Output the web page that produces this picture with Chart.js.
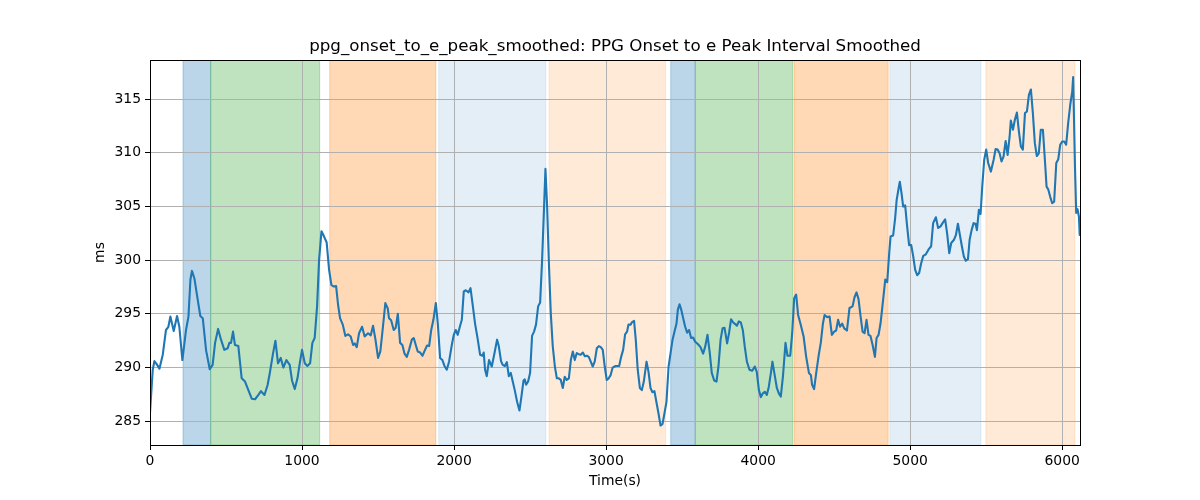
<!DOCTYPE html>
<html>
<head>
<meta charset="utf-8">
<script src="https://cdn.jsdelivr.net/npm/chart.js@4/dist/chart.umd.min.js"></script>
<style>
  body { margin: 0; background: #fff; }
  #chart { display: block; }
</style>
</head>
<body>
<canvas id="chart" width="1200" height="500"></canvas>
<script>
// time (s) and smoothed interval (ms)
var times = [
  0, 18, 29, 45, 62, 84, 105, 121, 134, 156, 178, 193, 213, 237, 253, 266, 276, 292, 314, 331,
  347, 369, 393, 412, 428, 448, 467, 489, 511, 522, 533, 546, 559, 581, 603, 625, 647, 669, 691, 713,
  730, 753, 774, 788, 809, 825, 842, 860, 877, 897, 919, 934, 952, 970, 985, 1000, 1018, 1035, 1053, 1068,
  1083, 1099, 1112, 1128, 1145, 1162, 1178, 1193, 1209, 1224, 1237, 1250, 1268, 1285, 1303, 1320, 1336, 1347, 1360, 1375,
  1395, 1412, 1434, 1452, 1467, 1483, 1500, 1515, 1530, 1548, 1564, 1572, 1586, 1603, 1616, 1630, 1645, 1660, 1674, 1689,
  1704, 1722, 1735, 1748, 1761, 1777, 1792, 1809, 1822, 1836, 1849, 1864, 1880, 1893, 1908, 1923, 1937, 1952, 1967, 1985,
  1998, 2011, 2024, 2038, 2051, 2064, 2077, 2095, 2108, 2121, 2138, 2156, 2171, 2187, 2195, 2204, 2215, 2230, 2248, 2266,
  2283, 2294, 2309, 2320, 2334, 2347, 2360, 2373, 2386, 2399, 2415, 2430, 2443, 2457, 2465, 2474, 2487, 2500, 2513, 2526,
  2539, 2553, 2566, 2579, 2592, 2601, 2612, 2623, 2636, 2649, 2663, 2676, 2689, 2702, 2715, 2728, 2741, 2755, 2768, 2781,
  2794, 2807, 2820, 2833, 2847, 2860, 2873, 2886, 2899, 2912, 2925, 2939, 2952, 2965, 2978, 2991, 3004, 3017, 3030, 3043,
  3062, 3086, 3099, 3112, 3125, 3138, 3147, 3161, 3169, 3184, 3195, 3208, 3222, 3235, 3248, 3266, 3279, 3292, 3305, 3318,
  3332, 3345, 3358, 3371, 3384, 3397, 3411, 3424, 3437, 3450, 3463, 3472, 3483, 3494, 3507, 3520, 3533, 3546, 3559, 3572,
  3586, 3603, 3621, 3638, 3651, 3667, 3682, 3695, 3711, 3726, 3739, 3753, 3766, 3779, 3796, 3809, 3822, 3836, 3849, 3860,
  3873, 3886, 3899, 3912, 3926, 3943, 3961, 3978, 3991, 4005, 4018, 4031, 4044, 4057, 4070, 4084, 4094, 4110, 4123, 4136,
  4149, 4163, 4180, 4193, 4211, 4224, 4237, 4250, 4263, 4281, 4299, 4316, 4334, 4347, 4355, 4368, 4382, 4399, 4412, 4426,
  4437, 4452, 4470, 4485, 4500, 4513, 4526, 4539, 4553, 4566, 4584, 4601, 4621, 4634, 4647, 4660, 4674, 4687, 4700, 4713,
  4726, 4739, 4753, 4768, 4779, 4792, 4805, 4822, 4836, 4849, 4862, 4871, 4888, 4901, 4911, 4924, 4932, 4943, 4954, 4967,
  4980, 4993, 5007, 5020, 5033, 5046, 5059, 5072, 5086, 5103, 5121, 5138, 5151, 5169, 5184, 5200, 5213, 5230, 5243, 5257,
  5270, 5288, 5301, 5314, 5327, 5340, 5353, 5366, 5380, 5391, 5404, 5417, 5430, 5439, 5452, 5463, 5474, 5487, 5500, 5513,
  5531, 5549, 5562, 5575, 5588, 5601, 5614, 5628, 5641, 5654, 5662, 5676, 5689, 5702, 5715, 5728, 5741, 5755, 5768, 5781,
  5794, 5807, 5820, 5833, 5846, 5859, 5873, 5886, 5897, 5908, 5921, 5934, 5947, 5961, 5974, 5987, 6000, 6013, 6026, 6039,
  6053, 6066, 6072, 6084, 6092, 6101, 6110, 6115
];
var intervals = [
  285.8, 289.8, 290.6, 290.3, 289.9, 291.2, 293.5, 293.8, 294.75, 293.4, 294.8, 293.8, 290.7, 293.5, 294.75, 298.2, 299.0, 298.3, 296.3, 294.8,
  294.6, 291.6, 289.85, 290.25, 292.3, 293.6, 292.6, 291.65, 291.8, 292.3, 292.3, 293.35, 292.1, 292.0, 289.0, 288.7, 287.9, 287.1, 287.05, 287.45,
  287.8, 287.45, 288.4, 289.5, 291.3, 292.5, 290.4, 290.9, 290.0, 290.7, 290.25, 288.8, 288.0, 289.0, 290.4, 291.65, 290.4, 290.15, 290.4, 292.3,
  292.75, 295.7, 300.0, 302.7, 302.2, 301.65, 299.1, 297.7, 297.55, 297.6, 295.85, 294.6, 294.0, 292.95, 293.1, 292.9, 292.1, 292.25, 291.9, 293.2,
  293.8, 292.9, 293.2, 293.0, 293.9, 292.6, 290.9, 291.5, 293.5, 296.0, 295.5, 294.6, 294.4, 293.5, 293.7, 295.0, 292.3, 292.1, 291.3, 291.0,
  291.65, 292.6, 292.75, 292.1, 291.5, 291.4, 291.1, 291.65, 292.05, 292.0, 293.45, 294.45, 296.0, 294.1, 290.9, 290.7, 290.15, 289.8, 290.55, 292.1,
  293.05, 293.5, 293.05, 293.8, 294.45, 297.1, 297.2, 297.0, 297.4, 296.0, 294.1, 292.6, 291.2, 291.1, 291.4, 289.8, 289.2, 290.7, 290.1, 291.35,
  292.6, 292.0, 290.6, 290.25, 290.15, 290.5, 289.2, 289.5, 288.7, 287.9, 286.8, 286.0, 287.3, 288.8, 288.9, 288.4, 288.7, 289.5, 292.95, 293.35,
  294.0, 295.7, 296.05, 300.0, 305.0, 308.5, 305.0, 300.0, 295.1, 292.0, 290.1, 289.0, 289.0, 288.85, 288.1, 289.15, 288.85, 289.0, 290.7, 291.5,
  290.7, 291.35, 291.25, 291.2, 291.4, 291.05, 291.1, 291.0, 290.55, 290.1, 290.55, 291.8, 292.0, 291.9, 291.65, 290.1, 288.85, 289.0, 289.3, 290.0,
  290.15, 290.15, 291.0, 291.65, 293.1, 293.35, 294.0, 294.0, 294.2, 294.35, 292.6, 289.8, 288.1, 287.9, 288.7, 290.55, 289.6, 288.1, 287.7, 287.8,
  286.7, 285.7, 284.6, 284.75, 285.75, 286.8, 290.1, 291.35, 292.6, 293.35, 294.1, 295.4, 295.9, 295.4, 294.6, 293.8, 293.25, 293.5, 292.75, 292.8,
  292.4, 292.2, 291.9, 291.3, 291.9, 293.05, 291.35, 289.5, 288.8, 288.7, 290.1, 292.6, 293.65, 293.7, 292.25, 293.25, 294.5, 294.2, 294.05, 293.9,
  294.3, 294.2, 293.5, 291.95, 290.55, 289.8, 289.7, 290.1, 289.6, 287.9, 287.25, 287.6, 287.75, 287.45, 288.2, 289.5, 290.55, 289.2, 288.1, 287.6,
  287.3, 289.15, 292.3, 291.1, 291.1, 293.2, 296.45, 296.8, 294.9, 293.95, 292.9, 291.0, 289.5, 289.3, 288.4, 288.0, 289.5, 291.2, 292.3, 294.1,
  294.9, 294.7, 294.75, 293.05, 293.35, 293.45, 294.45, 293.8, 294.1, 293.65, 293.45, 295.55, 295.7, 296.55, 297.0, 296.4, 294.75, 293.35, 293.2, 294.45,
  293.05, 292.95, 292.1, 291.0, 292.75, 293.05, 294.1, 296.3, 298.2, 297.95, 300.65, 302.2, 302.3, 303.9, 305.6, 306.7, 307.3, 306.25, 305.0, 305.1,
  303.15, 301.4, 301.4, 300.35, 299.1, 298.6, 298.8, 299.7, 300.4, 300.55, 301.0, 301.3, 303.45, 304.0, 303.0, 303.15, 303.45, 303.8, 302.5, 300.65,
  301.6, 301.9, 302.35, 303.4, 302.35, 301.3, 300.35, 299.95, 300.1, 301.9, 302.8, 303.45, 303.4, 302.8, 304.7, 304.3, 306.85, 309.35, 310.3, 309.05,
  308.25, 309.35, 310.35, 310.3, 309.95, 309.2, 309.65, 311.1, 309.8, 311.5, 313.0, 312.15, 313.1, 313.75, 312.0, 310.6, 310.3, 313.7, 313.85, 315.4,
  315.9, 313.7, 310.9, 309.7, 309.95, 312.15, 312.15, 309.35, 306.85, 306.6, 305.9, 305.3, 305.45, 309.05, 309.4, 310.75, 311.05, 311.05, 310.75, 312.75,
  314.5, 315.7, 317.05, 308.7, 304.4, 304.75, 304.05, 302.35
];

// shaded phases
var spanStart = [217, 399, 1182, 1899, 2625, 3425, 3586, 4237, 4866, 5498];
var spanEnd = [399, 1116, 1880, 2603, 3391, 3586, 4228, 4855, 5465, 6084];
var spanColor = [
  "rgba(31, 119, 180, 0.3)", "rgba(44, 160, 44, 0.3)", "rgba(255, 127, 14, 0.3)",
  "rgba(31, 119, 180, 0.12)", "rgba(255, 127, 14, 0.16)",
  "rgba(31, 119, 180, 0.3)", "rgba(44, 160, 44, 0.3)", "rgba(255, 127, 14, 0.3)",
  "rgba(31, 119, 180, 0.12)", "rgba(255, 127, 14, 0.16)"
];

var xTicks = [0, 1000, 2000, 3000, 4000, 5000, 6000];
var yTicks = [285, 290, 295, 300, 305, 310, 315];

var font_family = "'DejaVu Sans', sans-serif";

var spans_plugin = {
  id: 'spans',
  beforeDraw: function(chart) {
    var ctx = chart.ctx;
    var area = chart.chartArea;
    var xs = chart.scales.x;
    ctx.save();
    ctx.beginPath();
    ctx.rect(area.left, area.top, area.right - area.left, area.bottom - area.top);
    ctx.clip();
    for (var i = 0; i < spanStart.length; i++) {
      var x1 = xs.getPixelForValue(spanStart[i]);
      var x2 = xs.getPixelForValue(spanEnd[i]);
      ctx.fillStyle = spanColor[i];
      ctx.strokeStyle = spanColor[i];
      ctx.lineWidth = 1;
      ctx.fillRect(x1, area.top, x2 - x1, area.bottom - area.top);
      ctx.strokeRect(x1, area.top, x2 - x1, area.bottom - area.top);
    }
    ctx.restore();
  }
};

var frame_plugin = {
  id: 'frame',
  afterDatasetsDraw: function(chart) {
    var ctx = chart.ctx;
    var a = chart.chartArea;
    ctx.save();
    ctx.strokeStyle = "#000";
    ctx.lineWidth = 1;
    ctx.strokeRect(Math.round(a.left) + 0.5, Math.round(a.top) + 0.5,
      Math.round(a.right - a.left), Math.round(a.bottom - a.top));
    ctx.restore();
  }
};

var points = times.map(function(t, i) { return {x: t, y: intervals[i]}; });

var ctx = document.getElementById('chart').getContext('2d');
window.myChart = new Chart(ctx, {
  type: 'scatter',
  data: {
    datasets: [{
      label: 'ppg_onset_to_e_peak_smoothed',
      data: points,
      borderColor: "#1f77b4",
      backgroundColor: "rgba(0,0,0,0)",
      borderWidth: 2.1,
      borderJoinStyle: 'round',
      borderCapStyle: 'round',
      pointRadius: 0,
      showLine: true,
      tension: 0
    }]
  },
  options: {
    responsive: false,
    animation: false,
    devicePixelRatio: 1,
    layout: {
      padding: {left: 92, right: 120, top: 0, bottom: 0}
    },
    scales: {
      x: {
        type: 'linear',
        min: 0,
        max: 6117,
        afterFit: function(scale) { scale.height = 55; },
        afterBuildTicks: function(scale) {
          scale.ticks = xTicks.map(function(v) { return {value: v}; });
        },
        grid: {
          color: "#b0b0b0",
          lineWidth: 1,
          tickColor: "#000",
          tickLength: 5,
          tickWidth: 1
        },
        border: { display: false },
        ticks: {
          color: "#000",
          padding: 3,
          maxRotation: 0,
          font: { family: font_family, size: 13.9 },
          callback: function(value) { return value; }
        },
        title: {
          display: true,
          text: 'Time(s)',
          color: "#000",
          padding: {top: 0, bottom: 10},
          font: { family: font_family, size: 13.9 }
        }
      },
      y: {
        min: 282.79,
        max: 318.64,
        afterFit: function(scale) { scale.width = 58; },
        afterBuildTicks: function(scale) {
          scale.ticks = yTicks.map(function(v) { return {value: v}; });
        },
        grid: {
          color: "#b0b0b0",
          lineWidth: 1,
          tickColor: "#000",
          tickLength: 5,
          tickWidth: 1
        },
        border: { display: false },
        ticks: {
          color: "#000",
          padding: 4,
          font: { family: font_family, size: 13.9 },
          callback: function(value) { return value; }
        },
        title: {
          display: true,
          text: 'ms',
          color: "#000",
          padding: {top: 0, bottom: 0},
          font: { family: font_family, size: 13.9 }
        }
      }
    },
    plugins: {
      legend: { display: false },
      tooltip: { enabled: false },
      title: {
        display: true,
        fullSize: false,
        text: 'ppg_onset_to_e_peak_smoothed: PPG Onset to e Peak Interval Smoothed',
        color: "#000",
        padding: {top: 37, bottom: 3},
        font: { family: font_family, size: 16.7, weight: 'normal' }
      }
    }
  },
  plugins: [spans_plugin, frame_plugin]
});
</script>
</body>
</html>
